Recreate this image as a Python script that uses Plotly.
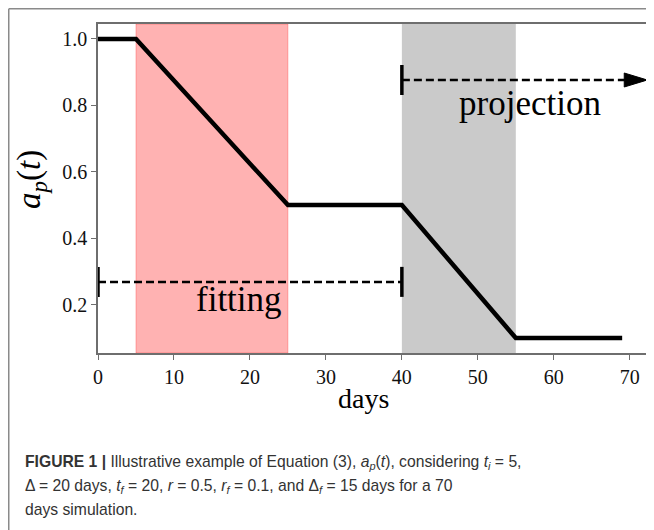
import plotly.graph_objects as go

# ---- data ----
days = [0, 5, 25, 40, 55, 69]
ap = [1.0, 1.0, 0.5, 0.5, 0.1, 0.1]

fit_window = [5, 25]
proj_window = [40, 55]

fit_arrow_x = [0, 40]
fit_arrow_y = 0.269
proj_arrow_x = [40, 72.3]
proj_arrow_y = 0.8765

x_ticks = [0, 10, 20, 30, 40, 50, 60, 70]
y_ticks = [0.2, 0.4, 0.6, 0.8, 1.0]

x_range = [0, 72.4]
y_range = [0.055, 1.045]

caption_lines = [
    "<b>FIGURE 1 |</b> Illustrative example of Equation (3), <i>a<sub>p</sub></i>(<i>t</i>), considering <i>t<sub>i</sub></i> = 5,",
    "Δ = 20 days, <i>t<sub>f</sub></i> = 20, <i>r</i> = 0.5, <i>r<sub>f</sub></i> = 0.1, and Δ<sub><i>f</i></sub> = 15 days for a 70",
    "days simulation.",
]

# page body has an 8px margin: figure origin sits at (8, 8) of the screenshot
OFF = 8
W, H = 654, 530
PLOT_L, PLOT_R, PLOT_T, PLOT_B = 98, 648, 24, 353  # screenshot pixels
L = PLOT_L - OFF
T = PLOT_T - OFF
R = W - (PLOT_R - OFF)
B = H - (PLOT_B - OFF)
PW, PH = PLOT_R - PLOT_L, PLOT_B - PLOT_T

def px_x(p):
    return (p - PLOT_L) / PW

def px_y(p):
    return (PLOT_B - p) / PH

SERIF = "Liberation Serif, Times New Roman, serif"
SANS = "Liberation Sans, Arial, sans-serif"

fig = go.Figure()

# main line
fig.add_trace(go.Scatter(x=days, y=ap, mode="lines",
                         line=dict(color="black", width=4.5),
                         showlegend=False, hoverinfo="skip"))

# dashed arrows
fig.add_trace(go.Scatter(x=fit_arrow_x, y=[fit_arrow_y] * 2, mode="lines",
                         line=dict(color="black", width=2.5, dash="8px,4px"),
                         showlegend=False, hoverinfo="skip"))
fig.add_trace(go.Scatter(x=[proj_arrow_x[0], proj_arrow_x[1] - 2.5], y=[proj_arrow_y] * 2, mode="lines",
                         line=dict(color="black", width=2.5, dash="8px,4px"),
                         showlegend=False, hoverinfo="skip"))

shapes = []
# shaded windows
shapes.append(dict(type="rect", xref="x", yref="paper", x0=fit_window[0], x1=fit_window[1],
                   y0=0, y1=1, fillcolor="rgba(255,0,0,0.3)",
                   line=dict(color="rgba(255,0,0,0.25)", width=1), layer="below"))
shapes.append(dict(type="rect", xref="x", yref="paper", x0=proj_window[0], x1=proj_window[1],
                   y0=0, y1=1, fillcolor="rgba(128,128,128,0.42)",
                   line=dict(width=0), layer="below"))

# end bars
for xv, yv in [(fit_arrow_x[0], fit_arrow_y), (fit_arrow_x[1], fit_arrow_y), (proj_arrow_x[0], proj_arrow_y)]:
    shapes.append(dict(type="line", xref="x", yref="y", xsizemode="scaled", ysizemode="pixel",
                       yanchor=yv, x0=xv, x1=xv, y0=-15, y1=15,
                       line=dict(color="black", width=3.5)))

# arrowhead
shapes.append(dict(type="path", xref="x", yref="y", xsizemode="pixel", ysizemode="pixel",
                   xanchor=proj_arrow_x[1], yanchor=proj_arrow_y,
                   path="M0,0 L-23,-7 L-23,7 Z", fillcolor="black", line=dict(color="black", width=1)))

# outer frame (top and left)
shapes.append(dict(type="line", xref="paper", yref="paper",
                   x0=px_x(8.75), x1=px_x(W + 20), y0=px_y(8.75), y1=px_y(8.75),
                   line=dict(color="#8a8a8a", width=1.5)))
shapes.append(dict(type="line", xref="paper", yref="paper",
                   x0=px_x(8.75), x1=px_x(8.75), y0=px_y(8.75), y1=px_y(H + 20),
                   line=dict(color="#8a8a8a", width=1.5)))

annotations = []
annotations.append(dict(x=18.5, y=0.2145, xref="x", yref="y", text="fitting", showarrow=False,
                        xanchor="center", yanchor="middle",
                        font=dict(family=SERIF, size=35, color="black")))
annotations.append(dict(x=56.9, y=0.807, xref="x", yref="y", text="projection", showarrow=False,
                        xanchor="center", yanchor="middle",
                        font=dict(family=SERIF, size=35, color="black")))
annotations.append(dict(x=px_x(363.5), y=px_y(398), xref="paper", yref="paper", text="days",
                        showarrow=False, xanchor="center", yanchor="middle",
                        font=dict(family=SERIF, size=28, color="black")))
annotations.append(dict(x=px_x(32), y=px_y(180), xref="paper", yref="paper",
                        text="<i>a</i><sub><i>p</i></sub>(<i>t</i>)", textangle=-90,
                        showarrow=False, xanchor="center", yanchor="middle",
                        font=dict(family=SERIF, size=33, color="black")))
for i, line in enumerate(caption_lines):
    annotations.append(dict(x=px_x(23), y=px_y(463 + 23 * i), xref="paper", yref="paper",
                            text=line, showarrow=False, xanchor="left", yanchor="middle",
                            align="left", font=dict(family=SANS, size=15.7, color="#333333")))

fig.update_layout(
    width=W, height=H,
    margin=dict(l=L, r=R, t=T, b=B, pad=0),
    plot_bgcolor="white", paper_bgcolor="white",
    shapes=shapes, annotations=annotations,
    xaxis=dict(range=x_range, tickvals=x_ticks, ticktext=[str(v) for v in x_ticks],
               showgrid=False, zeroline=False, showline=True, mirror=True,
               linecolor="#6e6e6e", linewidth=1.5, ticks="outside", ticklen=5,
               tickcolor="#6e6e6e", tickwidth=1.2,
               tickfont=dict(family=SERIF, size=20, color="#111111")),
    yaxis=dict(range=y_range, tickvals=y_ticks, ticktext=["%.1f" % v for v in y_ticks],
               showgrid=False, zeroline=False, showline=True, mirror=True,
               linecolor="#6e6e6e", linewidth=1.5, ticks="outside", ticklen=5,
               tickcolor="#6e6e6e", tickwidth=1.2,
               tickfont=dict(family=SERIF, size=20, color="#111111")),
)

fig.write_html("out.html")
